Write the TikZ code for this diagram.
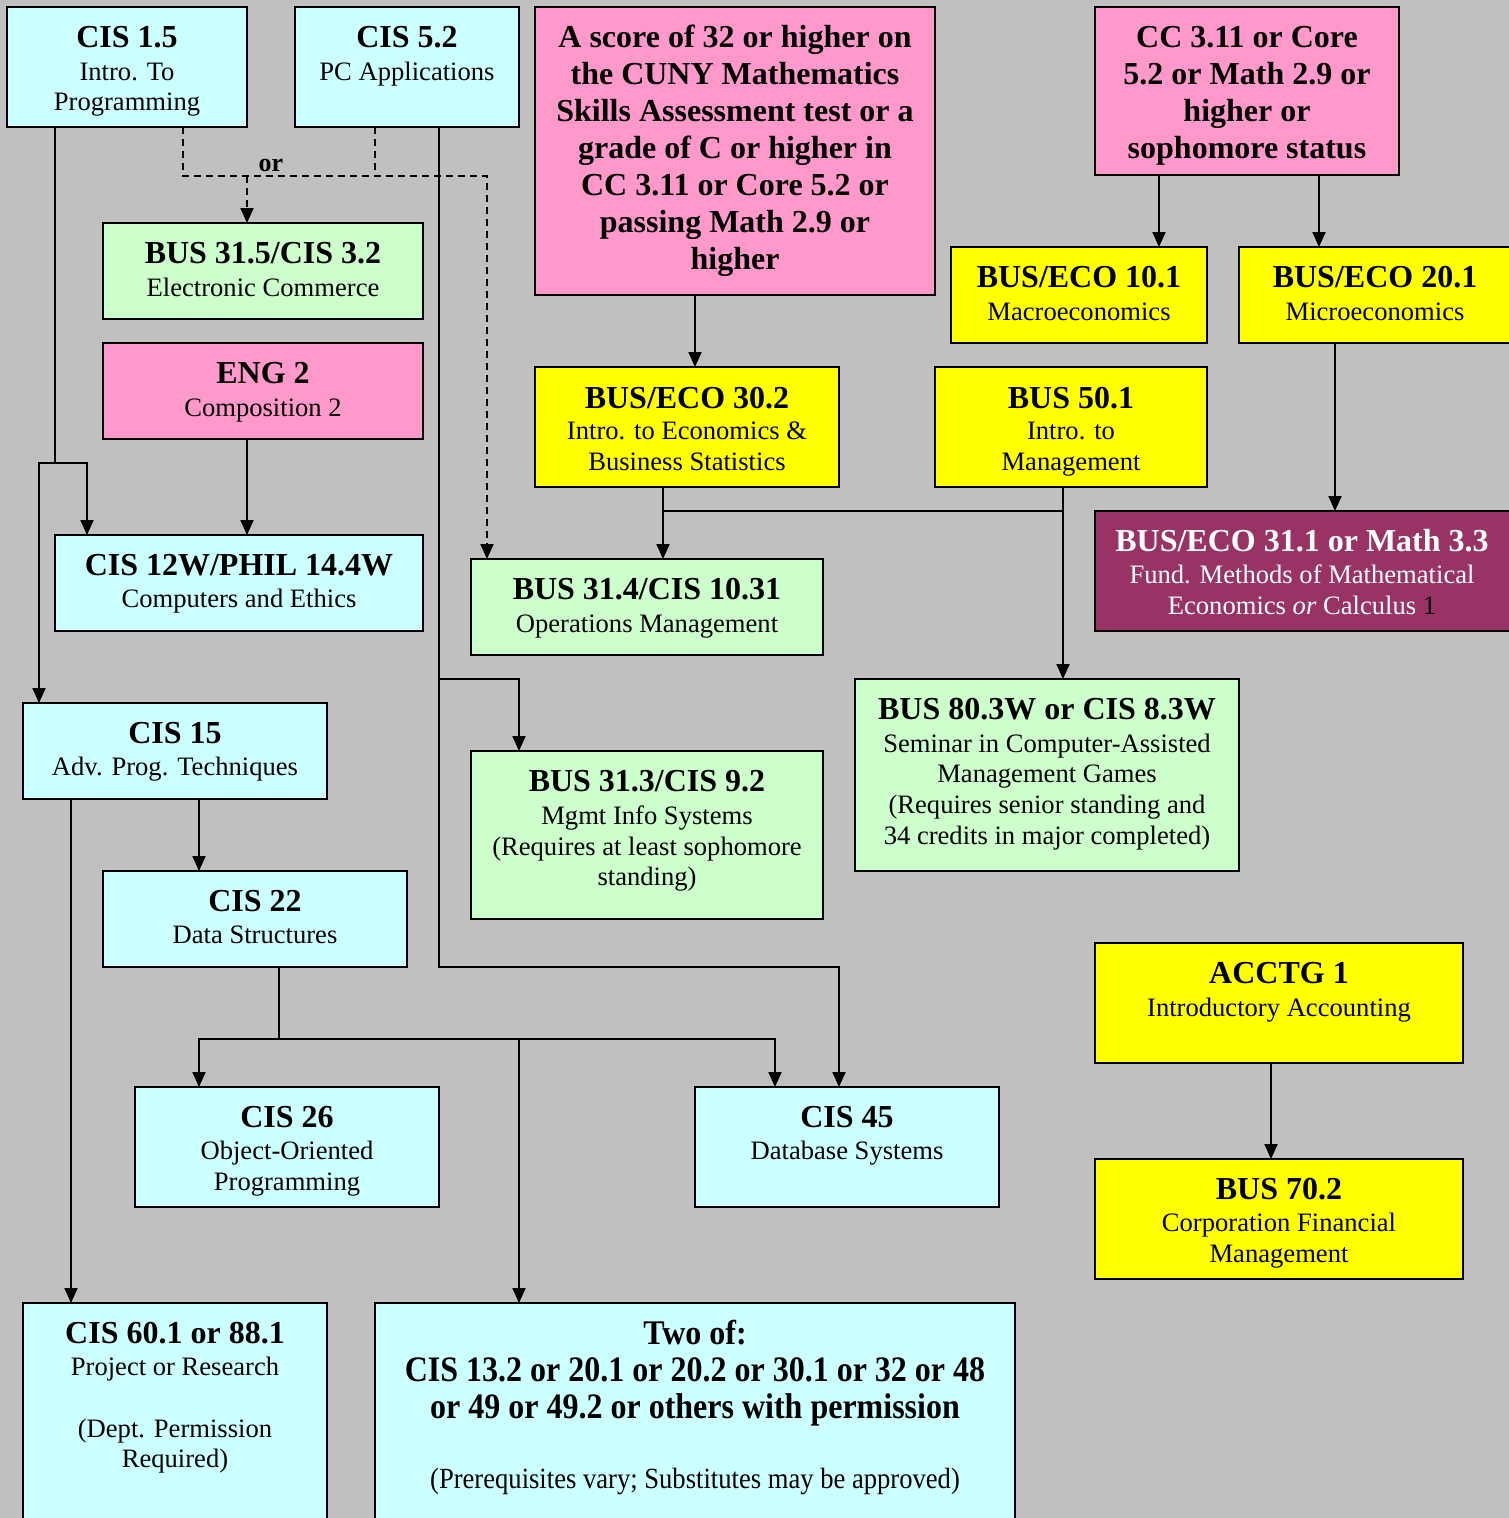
\documentclass[tikz,border=0pt]{standalone}
\usepackage{fontspec}
\setmainfont{Liberation Serif}
\usetikzlibrary{arrows.meta}
\definecolor{bgc}{HTML}{C0C0C0}
\definecolor{cyanc}{HTML}{CCFFFF}
\definecolor{greenc}{HTML}{CCFFCC}
\definecolor{pinkc}{HTML}{FF99CC}
\definecolor{yellowc}{HTML}{FFFF00}
\definecolor{purplec}{HTML}{993366}
\newcommand{\bx}[6]{\node[box,fill=#6,minimum width={(#4-#2)*1pt},minimum height={(#5-#3)*1pt}] (#1) at ({(#2+#4)/2},{(#3+#5)/2}) {};}
\newcommand{\txl}[5]{\node[#1] (#2) at (#3,#4) {#5};}
\tikzset{
  box/.style={draw=black, line width=2.5pt, rectangle, inner sep=0pt, outer sep=0pt},
  ttl/.style={anchor=base, inner sep=0pt, font=\fontsize{32}{37}\selectfont\bfseries},
  sub/.style={anchor=base, inner sep=0pt, font=\fontsize{26.6}{31}\selectfont},
  con/.style={line width=2pt, draw=black},
  arr/.style={con, -{Triangle[length=15pt,width=13pt]}},
  dsh/.style={dash pattern=on 7pt off 5pt},
}
\begin{document}
\begin{tikzpicture}[x=1pt,y=-1pt]
\useasboundingbox (0,0) rectangle (1509,1518);
\clip (0,0) rectangle (1509,1518);
\fill[bgc] (0,0) rectangle (1509,1518);

% boxes
\bx{cisA}{7}{7}{247}{127}{cyanc}
\bx{cisB}{295}{7}{519}{127}{cyanc}
\bx{score}{535}{7}{935}{295}{pinkc}
\bx{cc}{1095}{7}{1399}{175}{pinkc}
\bx{ecom}{103}{223}{423}{319}{greenc}
\bx{eng}{103}{343}{423}{439}{pinkc}
\bx{ecoA}{951}{247}{1207}{343}{yellowc}
\bx{ecoB}{1239}{247}{1530}{343}{yellowc}
\bx{ecoC}{535}{367}{839}{487}{yellowc}
\bx{mgmt}{935}{367}{1207}{487}{yellowc}
\bx{ethics}{55}{535}{423}{631}{cyanc}
\bx{ops}{471}{559}{823}{655}{greenc}
\bx{math}{1095}{511}{1530}{631}{purplec}
\bx{cisN}{23}{703}{327}{799}{cyanc}
\bx{mis}{471}{751}{823}{919}{greenc}
\bx{sem}{855}{679}{1239}{871}{greenc}
\bx{ds}{103}{871}{407}{967}{cyanc}
\bx{acc}{1095}{943}{1463}{1063}{yellowc}
\bx{oop}{135}{1087}{439}{1207}{cyanc}
\bx{db}{695}{1087}{999}{1207}{cyanc}
\bx{fin}{1095}{1159}{1463}{1279}{yellowc}
\bx{proj}{23}{1303}{327}{1540}{cyanc}
\bx{two}{375}{1303}{1015}{1540}{cyanc}

% junction points
\coordinate (j1) at (55,463);
\coordinate (dj) at (375,176);
\coordinate (dk) at (247,176);
\coordinate (j3) at (439,967);
\coordinate (j4) at (439,679);
\coordinate (j5) at (663,511);
\coordinate (j6) at (1063,511);
\coordinate (j7) at (279,1039);
\coordinate (j8) at (519,1039);

% connectors
\draw[con] ([xshift=48pt]cisA.south west) -- (j1);
\draw[arr] (j1) -| ([xshift=32pt]ethics.north west);
\draw[arr] (j1) -| ([xshift=16pt]cisN.north west);
\draw[con,dsh,-{Triangle[length=15pt,width=13pt]}] ([xshift=176pt]cisA.south west) |- (dj) -| ([xshift=16pt]ops.north west);
\draw[con,dsh] ([xshift=80pt]cisB.south west) -- (dj);
\draw[con,dsh,-{Triangle[length=15pt,width=13pt]}] (dk) -- ([xshift=144pt]ecom.north west);
\draw[arr] ([xshift=144pt]cisB.south west) -- (j3) -| ([xshift=144pt]db.north west);
\draw[arr] (j4) -| ([xshift=48pt]mis.north west);
\draw[arr] ([xshift=144pt]eng.south west) -- ([xshift=192pt]ethics.north west);
\draw[arr] ([xshift=160pt]score.south west) -- ([xshift=160pt]ecoC.north west);
\draw[arr] ([xshift=64pt]cc.south west) -- ([xshift=208pt]ecoA.north west);
\draw[arr] ([xshift=224pt]cc.south west) -- ([xshift=80pt]ecoB.north west);
\draw[arr] ([xshift=96pt]ecoB.south west) -- ([xshift=240pt]math.north west);
\draw[arr] ([xshift=128pt]ecoC.south west) -- ([xshift=192pt]ops.north west);
\draw[con] (j5) -- (j6);
\draw[arr] ([xshift=128pt]mgmt.south west) -- ([xshift=208pt]sem.north west);
\draw[arr] ([xshift=48pt]cisN.south west) -- ([xshift=48pt]proj.north west);
\draw[arr] ([xshift=176pt]cisN.south west) -- ([xshift=96pt]ds.north west);
\draw[con] ([xshift=176pt]ds.south west) -- (j7);
\draw[arr] (j7) -| ([xshift=64pt]oop.north west);
\draw[arr] (j7) -| ([xshift=80pt]db.north west);
\draw[arr] (j8) -- ([xshift=144pt]two.north west);
\draw[arr] ([xshift=176pt]acc.south west) -- ([xshift=176pt]fin.north west);

\node[anchor=base, inner sep=0pt, font=\fontsize{26}{31}\selectfont\bfseries] (orlbl) at (271,171) {or};

% texts
\txl{ttl}{tA1}{127}{47}{CIS 1.5}
\txl{sub}{tA2}{127}{80}{Intro. To}
\txl{sub}{tA3}{127}{110}{Programming}
\txl{ttl}{tB1}{407}{47}{CIS 5.2}
\txl{sub}{tB2}{407}{80}{PC Applications}
\txl{ttl}{tS1}{735}{47}{A score of 32 or higher on}
\txl{ttl}{tS2}{735}{84}{the CUNY Mathematics}
\txl{ttl}{tS3}{735}{121}{Skills Assessment test or a}
\txl{ttl}{tS4}{735}{158}{grade of C or higher in}
\txl{ttl}{tS5}{735}{195}{CC 3.11 or Core 5.2 or}
\txl{ttl}{tS6}{735}{232}{passing Math 2.9 or}
\txl{ttl}{tS7}{735}{269}{higher}
\txl{ttl}{tC1}{1247}{47}{CC 3.11 or Core}
\txl{ttl}{tC2}{1247}{84}{5.2 or Math 2.9 or}
\txl{ttl}{tC3}{1247}{121}{higher or}
\txl{ttl}{tC4}{1247}{158}{sophomore status}
\txl{ttl}{tE1}{263}{263}{BUS 31.5/CIS 3.2}
\txl{sub}{tE2}{263}{296}{Electronic Commerce}
\txl{ttl}{tG1}{263}{383}{ENG 2}
\txl{sub}{tG2}{263}{416}{Composition 2}
\txl{ttl}{tMa1}{1079}{287}{BUS/ECO 10.1}
\txl{sub}{tMa2}{1079}{320}{Macroeconomics}
\txl{ttl}{tMi1}{1375}{287}{BUS/ECO 20.1}
\txl{sub}{tMi2}{1375}{320}{Microeconomics}
\txl{ttl}{tEc1}{687}{408}{BUS/ECO 30.2}
\txl{sub}{tEc2}{687}{439}{Intro. to Economics \&}
\txl{sub}{tEc3}{687}{470}{Business Statistics}
\txl{ttl}{tMg1}{1071}{408}{BUS 50.1}
\txl{sub}{tMg2}{1071}{439}{Intro. to}
\txl{sub}{tMg3}{1071}{470}{Management}
\txl{ttl}{tEt1}{239}{575}{CIS 12W/PHIL 14.4W}
\txl{sub}{tEt2}{239}{607}{Computers and Ethics}
\txl{ttl}{tO1}{647}{599}{BUS 31.4/CIS 10.31}
\txl{sub}{tO2}{647}{632}{Operations Management}
\txl{ttl,text=white}{tP1}{1302}{551}{BUS/ECO 31.1 or Math 3.3}
\txl{sub,text=white}{tP2}{1302}{583}{Fund. Methods of Mathematical}
\txl{sub,text=white}{tP3}{1302}{614}{Economics \textit{or} Calculus \textcolor{black}{1}}
\txl{ttl}{tN1}{175}{743}{CIS 15}
\txl{sub}{tN2}{175}{775}{Adv. Prog. Techniques}
\txl{ttl}{tI1}{647}{791}{BUS 31.3/CIS 9.2}
\txl{sub}{tI2}{647}{824}{Mgmt Info Systems}
\txl{sub}{tI3}{647}{855}{(Requires at least sophomore}
\txl{sub}{tI4}{647}{885}{standing)}
\txl{ttl}{tSe1}{1047}{719}{BUS 80.3W or CIS 8.3W}
\txl{sub}{tSe2}{1047}{752}{Seminar in Computer-Assisted}
\txl{sub}{tSe3}{1047}{782}{Management Games}
\txl{sub}{tSe4}{1047}{813}{(Requires senior standing and}
\txl{sub}{tSe5}{1047}{844}{34 credits in major completed)}
\txl{ttl}{tD1}{255}{911}{CIS 22}
\txl{sub}{tD2}{255}{943}{Data Structures}
\txl{ttl}{tAc1}{1279}{983}{ACCTG 1}
\txl{sub}{tAc2}{1279}{1016}{Introductory Accounting}
\txl{ttl}{tOo1}{287}{1127}{CIS 26}
\txl{sub}{tOo2}{287}{1159}{Object-Oriented}
\txl{sub}{tOo3}{287}{1190}{Programming}
\txl{ttl}{tDb1}{847}{1127}{CIS 45}
\txl{sub}{tDb2}{847}{1159}{Database Systems}
\txl{ttl}{tF1}{1279}{1199}{BUS 70.2}
\txl{sub}{tF2}{1279}{1231}{Corporation Financial}
\txl{sub}{tF3}{1279}{1262}{Management}
\txl{ttl}{tPr1}{175}{1343}{CIS 60.1 or 88.1}
\txl{sub}{tPr2}{175}{1375}{Project or Research}
\txl{sub}{tPr3}{175}{1437}{(Dept. Permission}
\txl{sub}{tPr4}{175}{1467}{Required)}
\txl{ttl,yscale=1.08}{tT1}{695}{1344}{Two of:}
\txl{ttl,yscale=1.12}{tT2}{695}{1381}{CIS 13.2 or 20.1 or 20.2 or 30.1 or 32 or 48}
\txl{ttl,yscale=1.12}{tT3}{695}{1418}{or 49 or 49.2 or others with permission}
\txl{sub,yscale=1.1}{tT4}{695}{1488}{(Prerequisites vary; Substitutes may be approved)}
\end{tikzpicture}
\end{document}
